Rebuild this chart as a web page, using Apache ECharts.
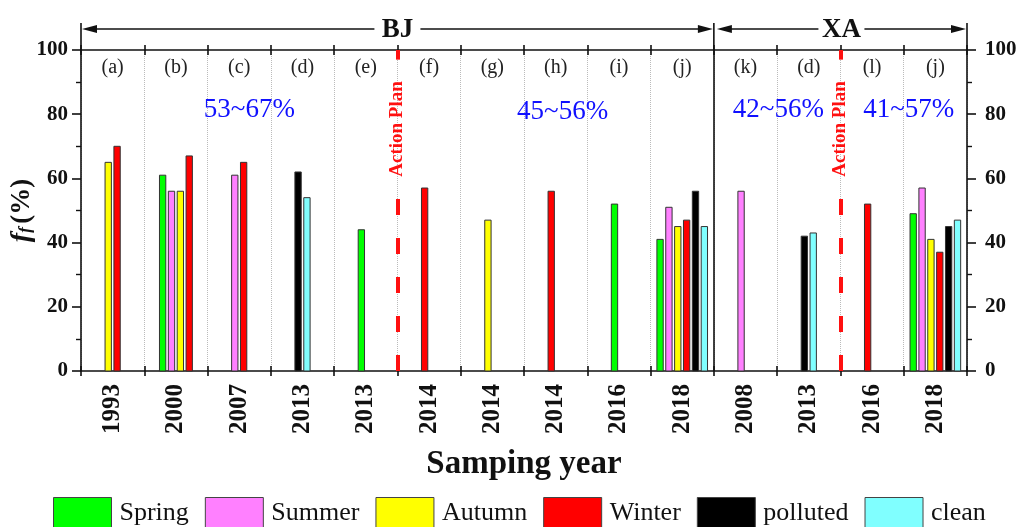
<!DOCTYPE html>
<html><head><meta charset="utf-8">
<script src="https://cdn.jsdelivr.net/npm/echarts@6/dist/echarts.min.js"></script>
<style>html,body{margin:0;padding:0;background:#fff}#c{width:1019px;height:527px}</style>
</head><body><div id="c"></div>
<script>
// ---- data ----
const categories = ['1993','2000','2007','2013','2013','2014','2014','2014','2016','2018','2008','2013','2016','2018'];
const panelLabels = ['(a)','(b)','(c)','(d)','(e)','(f)','(g)','(h)','(i)','(j)','(k)','(d)','(l)','(j)'];
const spring   = [null,61,null,null,44,null,null,null,52,41,null,null,null,49];
const summer   = [null,56,61,null,null,null,null,null,null,51,56,null,null,57];
const autumn   = [65,56,null,null,null,null,47,null,null,45,null,null,null,41];
const winter   = [70,67,65,null,null,57,null,56,null,47,null,null,52,37];
const polluted = [null,null,null,62,null,null,null,null,null,56,null,42,null,45];
const clean    = [null,null,null,54,null,null,null,null,null,45,null,43,null,47];
const seriesNames = ['Spring','Summer','Autumn','Winter','polluted','clean'];
const seriesColors = ['#00FF00','#FF80FF','#FFFF00','#FF0000','#000000','#80FFFF'];
const rangeTexts = ['53~67%','45~56%','42~56%','41~57%'];
const regionNames = ['BJ','XA'];

// ---- layout helpers (annotation placement, in axis units) ----
const rangeTextX = [2.66, 7.61, 11.02, 13.08];
const rangeTextY = [81.3, 80.7, 81.3, 81.3];
const regionBounds = [[0,10],[10,14]];
const actionPlanX = [5, 12];
const allSeries = [spring, summer, autumn, winter, polluted, clean];

const FONT = "'Liberation Serif','Times New Roman',serif";
const chart = echarts.init(document.getElementById('c'), null, {renderer:'canvas'});

function makeBarSeries(k){
  const arr = allSeries[k];
  const data = [];
  arr.forEach((v,i)=>{ if(v!=null) data.push([i,v]); });
  return {
    name: seriesNames[k], type:'custom', xAxisIndex:0, yAxisIndex:0,
    itemStyle:{color:seriesColors[k], borderColor:'#333', borderWidth:1},
    encode:{x:0,y:1},
    data: data,
    renderItem: function(params, api){
      const i = api.value(0), v = api.value(1);
      const present = [];
      for(let s=0;s<allSeries.length;s++){ if(allSeries[s][i]!=null) present.push(s); }
      const n = present.length;
      const slots = (n % 2) ? n + 1 : n;
      const pos = present.indexOf(k);
      const bw = api.size([1,0])[0];
      const pitch = bw*0.14, barW = bw*0.1;
      const base = api.coord([i,0]);
      const top = api.coord([i,v]);
      const cx = base[0] + (pos - slots/2 + 0.5)*pitch;
      return {type:'rect', shape:{x:cx-barW/2, y:top[1], width:barW, height:base[1]-top[1]},
        style:{fill:seriesColors[k], stroke:'#333', lineWidth:1}};
    }
  };
}

const axisLineStyle = {color:'#111', width:1.6};
const option = {
  animation:false,
  backgroundColor:'#fff',
  grid:{left:81, right:52, top:50, bottom:156, containLabel:false, outerBoundsMode:'none'},
  legend:{
    data:seriesNames, left:53, top:497, padding:0, itemWidth:58, itemHeight:32, itemGap:16,
    icon:'rect',
    itemStyle:{borderColor:'#444', borderWidth:1},
    textStyle:{fontFamily:FONT, fontSize:26, color:'#111', padding:[0,0,0,3]}
  },
  xAxis:[
    {type:'category', data:categories, position:'bottom', gridIndex:0,
     axisLine:{lineStyle:axisLineStyle},
     axisTick:{show:true, length:5, inside:false, interval:0, lineStyle:{color:'#111', width:1.6}},
     axisLabel:{interval:0, rotate:90, margin:13, fontFamily:FONT, fontWeight:'bold', fontSize:25, color:'#111'},
     splitLine:{show:true, interval:0, lineStyle:{type:'dotted', color:'#bbb', width:1}},
     name:'Samping year', nameLocation:'middle', nameGap:77, nameMoveOverlap:false,
     nameTextStyle:{fontFamily:FONT, fontWeight:'bold', fontSize:33, color:'#111'}
    },
    {type:'value', min:0, max:14, show:false, gridIndex:0, position:'top'},
    {type:'category', data:categories, position:'top', gridIndex:0,
     axisLine:{lineStyle:axisLineStyle},
     axisTick:{show:true, length:5, inside:true, interval:0, lineStyle:{color:'#111', width:1.6}},
     axisLabel:{show:false}, splitLine:{show:false}},
    {type:'category', data:categories, position:'top', gridIndex:0,
     axisLine:{show:false},
     axisTick:{show:true, length:5, inside:false, interval:0, lineStyle:{color:'#111', width:1.6}},
     axisLabel:{show:false}, splitLine:{show:false}},
    {type:'category', data:categories, position:'bottom', gridIndex:0,
     axisLine:{show:false},
     axisTick:{show:true, length:5, inside:true, interval:0, lineStyle:{color:'#111', width:1.6}},
     axisLabel:{show:false}, splitLine:{show:false}}
  ],
  yAxis:[
    {type:'value', min:0, max:100, interval:20, position:'left',
     axisLine:{show:true, lineStyle:axisLineStyle},
     axisTick:{show:true, length:9, lineStyle:{color:'#111', width:1.6}},
     minorTick:{show:true, splitNumber:2, length:5, lineStyle:{color:'#111', width:1.4}},
     axisLabel:{margin:13, fontFamily:FONT, fontWeight:'bold', fontSize:21, color:'#111'},
     splitLine:{show:false},
     name:'{i|f}{s|f} {n|(%)}', nameLocation:'middle', nameGap:45, nameRotate:90, nameMoveOverlap:false,
     nameTextStyle:{color:'#111', rich:{
       i:{fontFamily:FONT, fontStyle:'italic', fontWeight:'bold', fontSize:28},
       s:{fontFamily:FONT, fontStyle:'italic', fontWeight:'bold', fontSize:17, padding:[0,0,-8,0]},
       n:{fontFamily:FONT, fontWeight:'bold', fontSize:27}
     }}
    },
    {type:'value', min:0, max:100, interval:20, position:'right',
     axisLine:{show:true, lineStyle:axisLineStyle},
     axisTick:{show:true, length:9, lineStyle:{color:'#111', width:1.6}},
     minorTick:{show:true, splitNumber:2, length:5, lineStyle:{color:'#111', width:1.4}},
     axisLabel:{margin:18, fontFamily:FONT, fontWeight:'bold', fontSize:21, color:'#111'},
     splitLine:{show:false}
    }
  ],
  series: [0,1,2,3,4,5].map(makeBarSeries).concat([
    {type:'scatter', xAxisIndex:1, yAxisIndex:0, data:[], silent:true,
     markLine:{silent:true, symbol:['none','none'], label:{show:false}, animation:false,
       data:[
         [{coord:[regionBounds[0][1],0]},{coord:[regionBounds[0][1],100], lineStyle:{color:'#111', width:1.6, type:'solid'}}],
         [{coord:[actionPlanX[0],0]},{coord:[actionPlanX[0],53.6], lineStyle:{color:'#FF1010', width:4, type:[16,23]}}],
         [{coord:[actionPlanX[0],100]},{coord:[actionPlanX[0],97], lineStyle:{color:'#FF1010', width:4, type:'solid'}}],
         [{coord:[actionPlanX[1],0]},{coord:[actionPlanX[1],53.6], lineStyle:{color:'#FF1010', width:4, type:[16,23]}}],
         [{coord:[actionPlanX[1],100]},{coord:[actionPlanX[1],97], lineStyle:{color:'#FF1010', width:4, type:'solid'}}]
       ]}
    }
  ])
};
chart.setOption(option);

// ---- annotations placed through the axes ----
const px = v => chart.convertToPixel({xAxisIndex:1}, v);
const py = v => chart.convertToPixel({yAxisIndex:0}, v);
const g = [];
const yTopLine = 23, yArrow = 29, gridTop = py(100);
[0, regionBounds[0][1], 14].forEach(v=>{
  g.push({type:'line', shape:{x1:px(v), y1:yTopLine, x2:px(v), y2:gridTop}, style:{stroke:'#111', lineWidth:1.6}});
});
function arrowRegion(x0, x1, label){
  const cx = (x0+x1)/2;
  const halfText = label.length*17;
  const gapL = cx - halfText/2 - 6, gapR = cx + halfText/2 + 6;
  const ah = 15, aw = 4;
  g.push({type:'line', shape:{x1:x0+ah, y1:yArrow, x2:gapL, y2:yArrow}, style:{stroke:'#111', lineWidth:1.6}});
  g.push({type:'line', shape:{x1:gapR, y1:yArrow, x2:x1-ah, y2:yArrow}, style:{stroke:'#111', lineWidth:1.6}});
  g.push({type:'polygon', shape:{points:[[x0+1,yArrow],[x0+ah+1,yArrow-aw],[x0+ah+1,yArrow+aw]]}, style:{fill:'#111'}});
  g.push({type:'polygon', shape:{points:[[x1-1,yArrow],[x1-ah-1,yArrow-aw],[x1-ah-1,yArrow+aw]]}, style:{fill:'#111'}});
  g.push({type:'text', x:cx, y:yArrow+1, style:{text:label, font:"bold 27px "+FONT, fill:'#111', align:'center', verticalAlign:'middle'}});
}
arrowRegion(px(regionBounds[0][0]), px(regionBounds[0][1]), regionNames[0]);
arrowRegion(px(regionBounds[1][0])+2, px(regionBounds[1][1]), regionNames[1]);
panelLabels.forEach((t,i)=>{
  g.push({type:'text', x:px(i+0.5), y:py(94.4), style:{text:t, font:"20px "+FONT, fill:'#222', align:'center', verticalAlign:'middle'}});
});
rangeTexts.forEach((t,i)=>{
  g.push({type:'text', x:px(rangeTextX[i]), y:py(rangeTextY[i]), style:{text:t, font:"27px "+FONT, fill:'#1010FF', align:'center', verticalAlign:'middle'}});
});
actionPlanX.forEach(v=>{
  g.push({type:'text', x:px(v), y:py(75.4), rotation:Math.PI/2, style:{text:'Action Plan', font:"bold 19px "+FONT, fill:'#FF1010', align:'center', verticalAlign:'middle'}});
});
chart.setOption({graphic:{elements:g}});
</script>
</body></html>
